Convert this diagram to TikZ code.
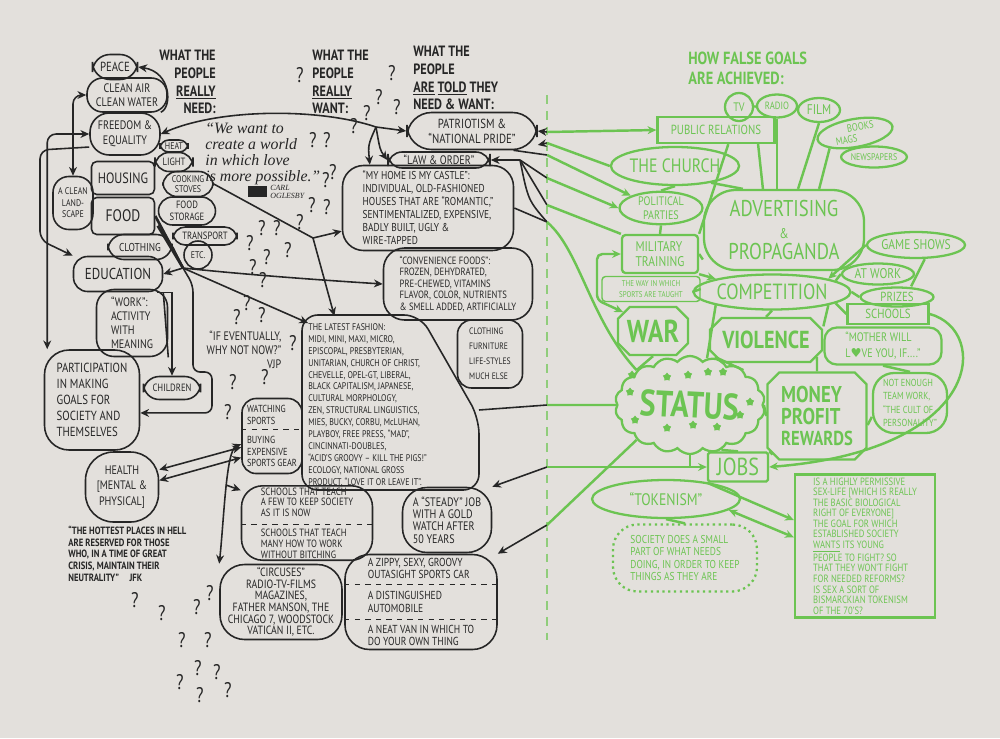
\documentclass[tikz,border=0pt]{standalone}
\usepackage{fontspec}
\setmainfont{PT Sans}[FakeStretch=0.82]
\newfontfamily\quotefont{Liberation Serif}[Ligatures=TeX]
\newfontfamily\symfont{DejaVu Sans}
\usetikzlibrary{shapes.geometric,shapes.symbols,shapes.misc,arrows.meta}

\definecolor{bgpaper}{RGB}{227,224,220}
\definecolor{inkc}{RGB}{38,38,38}
\definecolor{grnc}{RGB}{108,196,82}
\newcommand{\fs}[2]{\fontsize{#1}{#2}\selectfont}

\tikzset{
  sz/.style 2 args={minimum width=#1*0.02cm, minimum height=#2*0.02cm},
  inkbox/.style={draw=inkc, text=inkc, line width=0.9pt, rounded corners=7pt, inner sep=1pt, align=center},
  grbox/.style={draw=grnc, text=grnc, line width=1.3pt, inner sep=1pt, align=center},
  inktext/.style={text=inkc, inner sep=0pt, align=left},
  grtext/.style={text=grnc, inner sep=0pt, align=left},
  inkln/.style={draw=inkc, line width=0.9pt},
  grln/.style={draw=grnc, line width=1.4pt},
  qmark/.style={text=inkc, inner sep=0pt, font=\fs{12}{12}},
}

\begin{document}
\begin{tikzpicture}[x=0.02cm, y=-0.02cm, >={Stealth[length=5pt,width=4.5pt]}]
\fill[bgpaper] (0,0) rectangle (1000,738);
\useasboundingbox (0,0) rectangle (1000,738);
\draw[grnc!70!bgpaper, line width=0.8pt, dash pattern=on 5pt off 4pt] (547,95) -- (547,640);

% what the people really need
\node[inkbox, sz={45}{25}, rounded corners=10pt, font=\fs{7.5}{8}] (peace) at (115,67) {PEACE};
\node[inkbox, sz={80}{34}, rounded corners=9pt, font=\fs{7}{8}] (cleanair) at (127,95) {CLEAN AIR\\CLEAN WATER};
\node[inkbox, sz={70}{42}, rounded corners=11pt, font=\fs{7}{8.5}] (freedom) at (125,134) {FREEDOM \&\\EQUALITY};
\node[inkbox, sz={28}{12}, rounded corners=5pt, inner sep=0pt, font=\fs{5.5}{6}] (heat) at (174,146) {HEAT};
\node[inkbox, sz={38}{19}, rounded corners=8pt, font=\fs{6}{6}] (light) at (174,162) {LIGHT};
\node[inkbox, sz={63}{33}, rounded corners=3pt, font=\fs{8.5}{9}] (housing) at (123,178) {HOUSING};
\node[inkbox, sz={63}{37}, rounded corners=3pt, font=\fs{9.5}{10}] (food) at (123,216) {FOOD};
\node[inkbox, sz={50}{25}, rounded corners=8pt, font=\fs{5.5}{6}] (cooking) at (188,184) {COOKING\\STOVES};
\node[inkbox, sz={57}{28}, rounded corners=8pt, font=\fs{6}{6.5}] (storage) at (187,211) {FOOD\\STORAGE};
\node[inkbox, sz={40}{53}, rounded corners=9pt, font=\fs{5.5}{6.5}] (landscape) at (73,203) {A CLEAN\\LAND-\\SCAPE};
\node[inkbox, sz={64}{18}, rounded corners=7pt, font=\fs{6}{6}] (transport) at (205,236) {TRANSPORT};
\node[inkbox, sz={64}{25}, rounded corners=9pt, font=\fs{6.5}{7}] (clothing) at (140,247) {CLOTHING};
\node[inkbox, circle, sz={28}{28}, inner sep=0pt, font=\fs{5.5}{6}] (etc) at (198,255) {ETC.};
\node[inkbox, sz={89}{35}, rounded corners=8pt, font=\fs{9}{9}] (education) at (118,274) {EDUCATION};
\node[inkbox, sz={71}{67}, rounded corners=10pt, align=left, font=\fs{7}{8}] (work) at (132,323) {``WORK'':\\ACTIVITY\\WITH\\MEANING};
\node[inkbox, sz={57}{23}, rounded corners=9pt, font=\fs{6}{6}] (children) at (172,388) {CHILDREN};
\node[inkbox, sz={95}{100}, rounded corners=14pt, align=left, font=\fs{7.5}{9}] (particip) at (92,400) {PARTICIPATION\\IN MAKING\\GOALS FOR\\SOCIETY AND\\THEMSELVES};
\node[inkbox, sz={73}{70}, rounded corners=16pt, font=\fs{7}{9}] (health) at (122,487) {HEALTH\\{[}MENTAL \&\\PHYSICAL{]}};

% titles and quotes
\node[inktext, anchor=north east, align=right, font=\bfseries\fs{8.5}{10}] (needtitle) at (216,50) {WHAT THE\\PEOPLE\\\underline{REALLY}\\NEED:};
\node[inktext, anchor=north west, font=\bfseries\fs{8.5}{10}] (wanttitle) at (312,50) {WHAT THE\\PEOPLE\\\underline{REALLY}\\WANT:};
\node[inktext, anchor=north west, font=\bfseries\fs{8.5}{10}] (toldtitle) at (413,46) {WHAT THE\\PEOPLE\\\underline{ARE} \underline{TOLD} THEY\\NEED \& WANT:};
\node[inktext, anchor=north west, font=\quotefont\itshape\fs{9}{9}] (quote) at (205,123) {``We want to\\create a world\\in which love\\is more possible.''};
\node[fill=inkc, sz={19}{11}, inner sep=0pt] (blot) at (257,191) {};
\node[inktext, anchor=west, font=\quotefont\itshape\fs{4.5}{4.5}] (oglesby) at (270,192) {CARL\\OGLESBY};
\node[inktext, align=right, font=\fs{7}{8}] (ifnow) at (244,350) {``IF EVENTUALLY,\\WHY NOT NOW?''\\VJP};
\node[inktext, anchor=north west, font=\bfseries\fs{6}{6.6}] (jfk) at (68,526) {``THE HOTTEST PLACES IN HELL\\ARE RESERVED FOR THOSE\\WHO, IN A TIME OF GREAT\\CRISIS, MAINTAIN THEIR\\NEUTRALITY''\quad JFK};

% what the people are told they need
\node[inkbox, sz={130}{37}, rounded corners=14pt, font=\fs{7.5}{8.5}] (patriot) at (472,131) {PATRIOTISM \&\\``NATIONAL PRIDE''};
\node[inkbox, sz={102}{16}, rounded corners=8pt, font=\fs{7}{7}] (law) at (439,160) {``LAW \& ORDER''};
\node[inkbox, sz={171}{85}, rounded corners=12pt, align=left, font=\fs{6.5}{7.4}] (home) at (428,208) {``MY HOME IS MY CASTLE'':\\INDIVIDUAL, OLD-FASHIONED\\HOUSES THAT ARE ``ROMANTIC,''\\SENTIMENTALIZED, EXPENSIVE,\\BADLY BUILT, UGLY \&\\WIRE-TAPPED};
\node[inkbox, sz={149}{72}, rounded corners=12pt, align=left, font=\fs{6}{6.6}] (conv) at (458,284) {``CONVENIENCE FOODS'':\\FROZEN, DEHYDRATED,\\PRE-CHEWED, VITAMINS\\FLAVOR, COLOR, NUTRIENTS\\\& SMELL ADDED, ARTIFICIALLY};
\node[inkbox, sz={65}{68}, rounded corners=8pt, align=left, font=\fs{5.3}{8.5}] (clothlist) at (490,354) {CLOTHING\\FURNITURE\\LIFE-STYLES\\MUCH ELSE};
\node[inktext, anchor=north west, font=\fs{5.5}{6.8}] (fashion) at (308,323) {THE LATEST FASHION:\\MIDI, MINI, MAXI, MICRO,\\EPISCOPAL, PRESBYTERIAN,\\UNITARIAN, CHURCH OF CHRIST,\\CHEVELLE, OPEL-GT, LIBERAL,\\BLACK CAPITALISM, JAPANESE,\\CULTURAL MORPHOLOGY,\\ZEN, STRUCTURAL LINGUISTICS,\\MIES, BUCKY, CORBU, McLUHAN,\\PLAYBOY, FREE PRESS, ``MAD'',\\CINCINNATI-DOUBLES,\\``ACID'S GROOVY -- KILL THE PIGS!''\\ECOLOGY, NATIONAL GROSS\\PRODUCT, ``LOVE IT OR LEAVE IT''.};
\draw[inkln, rounded corners=9pt] (302,315) -- (420,315) -- (479,418) -- (479,490) -- (302,490) -- cycle;
\coordinate (fashR) at (479,410);
\node[inkbox, sz={60}{75}, rounded corners=8pt, align=left, font=\fs{5.8}{6.8}] (sports) at (272,436) {WATCHING\\SPORTS\\[4pt]BUYING\\EXPENSIVE\\SPORTS GEAR};
\draw[inkln, dashed, line width=0.5pt] ([yshift=4pt]sports.west) -- ([yshift=4pt]sports.east);
\node[inkbox, sz={131}{73}, rounded corners=12pt, align=left, font=\fs{6}{6.2}] (schools) at (307,523) {SCHOOLS THAT TEACH\\A FEW TO KEEP SOCIETY\\AS IT IS NOW\\[5pt]SCHOOLS THAT TEACH\\MANY HOW TO WORK\\WITHOUT BITCHING};
\draw[inkln, dashed, line width=0.5pt] ([yshift=-1pt]schools.west) -- ([yshift=-1pt]schools.east);
\node[inkbox, sz={122}{75}, rounded corners=14pt, font=\fs{6.8}{6.6}] (circus) at (281,602) {``CIRCUSES''\\RADIO-TV-FILMS\\MAGAZINES,\\FATHER MANSON, THE\\CHICAGO 7, WOODSTOCK\\VATICAN II, ETC.};
\node[inkbox, sz={89}{65}, rounded corners=14pt, align=left, font=\fs{7}{7}] (job) at (447,520) {A ``STEADY'' JOB\\WITH A GOLD\\WATCH AFTER\\50 YEARS};
\node[inkbox, sz={152}{95}, rounded corners=14pt, align=left, font=\fs{6.6}{7}] (car) at (421,602) {A ZIPPY, SEXY, GROOVY\\OUTASIGHT SPORTS CAR\\[5pt]A DISTINGUISHED\\AUTOMOBILE\\[5pt]A NEAT VAN IN WHICH TO\\DO YOUR OWN THING};
\draw[inkln, dashed, line width=0.5pt] ([yshift=10pt]car.west) -- ([yshift=10pt]car.east);
\draw[inkln, dashed, line width=0.5pt] ([yshift=-10pt]car.west) -- ([yshift=-10pt]car.east);

% question marks
\foreach \x/\y [count=\i] in {300/75,392/73,379/97,397/107,367/113,354/126,313/140,327/140,333/172,326/180,
  312/205,327/207,300/222,262/228,277/228,250/243,267/257,288/250,253/267,263/280,247/303,237/317,262/315,
  293/343,233/382,265/377,228/412,135/600,162/613,197/607,210/593,182/640,208/640,180/682,198/668,217/672,
  200/695,228/690}
  \node[qmark] (q\i) at (\x,\y) {?};

% how false goals are achieved
\node[grtext, anchor=north west, font=\bfseries\fs{10}{11}] (goalstitle) at (688,52) {HOW FALSE GOALS\\ARE ACHIEVED:};
\node[grbox, circle, sz={28}{28}, inner sep=0pt, font=\fs{7}{7}] (tv) at (739,107) {TV};
\node[grbox, ellipse, sz={40}{23}, inner sep=0pt, font=\fs{6}{6}] (radio) at (777,106) {RADIO};
\node[grbox, ellipse, sz={42}{24}, inner sep=0pt, font=\fs{8}{8}] (film) at (819,110) {FILM};
\node[grbox, ellipse, sz={76}{28}, rotate=10, inner sep=0pt, font=\fs{6}{6.5}] (books) at (855,133) {\hspace*{1.2em}BOOKS\\MAGS\hspace*{1.8em}};
\node[grbox, ellipse, sz={62}{21}, inner sep=0pt, font=\fs{5.5}{6}] (news) at (874,157) {NEWSPAPERS};
\node[grbox, sz={117}{26}, font=\fs{7.5}{8}] (pr) at (716,130) {PUBLIC RELATIONS};
\node[grbox, ellipse, sz={125}{38}, inner sep=0pt, font=\fs{11}{11}] (church) at (675,166) {THE CHURCH};
\node[grbox, ellipse, sz={83}{30}, inner sep=0pt, font=\fs{7}{8}] (political) at (661,208) {POLITICAL\\PARTIES};
\node[grbox, sz={160}{80}, rounded corners=18pt, font=\fs{13}{12}] (advert) at (784,230) {ADVERTISING\\{\fs{8}{8}\&}\\PROPAGANDA};
\node[grbox, sz={76}{38}, rounded corners=2pt, align=left, font=\fs{8}{9}] (military) at (660,254) {MILITARY\\TRAINING};
\node[grbox, sz={98}{25}, rounded corners=2pt, line width=0.8pt, font=\fs{4.8}{6}] (taught) at (651,289) {THE WAY IN WHICH\\SPORTS ARE TAUGHT};
\node[grbox, ellipse, sz={140}{35}, inner sep=0pt, font=\fs{12.5}{12}] (competition) at (772,292) {COMPETITION};
\node[grbox, ellipse, sz={93}{26}, inner sep=0pt, font=\fs{8}{8}] (gameshows) at (916,245) {GAME SHOWS};
\node[grbox, ellipse, sz={72}{21}, inner sep=0pt, font=\fs{8}{8}] (atwork) at (878,274) {AT WORK};
\node[grbox, ellipse, sz={73}{19}, inner sep=0pt, font=\fs{7.5}{8}] (prizes) at (897,297) {PRIZES};
\node[grbox, sz={81}{20}, font=\fs{7.5}{8}] (schoolsg) at (888,314) {SCHOOLS};
\node[grbox, chamfered rectangle, sz={70}{48}, font=\bfseries\fs{18}{18}] (war) at (653,331) {WAR};
\node[grbox, chamfered rectangle, sz={112}{44}, font=\bfseries\fs{14}{15}] (violence) at (766,340) {VIOLENCE};
\node[grbox, sz={117}{37}, rounded corners=7pt, align=left, font=\fs{7}{9}] (mother) at (883,346) {``MOTHER WILL\\L{\symfont\char"2665}VE YOU, IF....''};
\node[grbox, sz={74}{60}, rounded corners=12pt, align=left, font=\fs{5.8}{7.5}] (notenough) at (910,403) {NOT ENOUGH\\TEAM WORK,\\``THE CULT OF\\PERSONALITY''};
\node[grbox, cloud, cloud puffs=18, cloud puff arc=100, aspect=1.5, sz={150}{98}, inner sep=0pt] (status) at (690,405) {};
\node[grtext, font=\bfseries\fs{21}{21}, rotate=-3] (statustext) at (690,405) {STATUS};
\foreach \x/\y [count=\i] in {632/375,667/377,688/375,708/372,723/372,630/392,750/402,635/420,667/428,693/425,717/427,740/415}
  \node[star, star points=5, fill=grnc, inner sep=0pt, minimum size=5pt] (st\i) at (\x,\y) {};
\node[grbox, chamfered rectangle, sz={99}{87}, align=left, font=\bfseries\fs{13}{12.5}] (money) at (817,416) {MONEY\\PROFIT\\{\fs{11.5}{12}REWARDS}};
\node[grbox, sz={60}{29}, rounded corners=1pt, font=\fs{14}{14}] (jobs) at (738,467) {JOBS};
\node[grbox, ellipse, sz={148}{38}, inner sep=0pt, font=\fs{9.5}{10}] (tokenism) at (666,499) {``TOKENISM''};
\node[grbox, dotted, sz={144}{67}, rounded corners=14pt, align=left, font=\fs{6.5}{7.2}] (society) at (685,558) {SOCIETY DOES A SMALL\\PART OF WHAT NEEDS\\DOING, IN ORDER TO KEEP\\THINGS AS THEY ARE};
\node[grbox, sz={140}{143}, align=left, font=\fs{6}{6}] (sexbox) at (865,546) {IS A HIGHLY PERMISSIVE\\SEX-LIFE [WHICH IS REALLY\\THE BASIC BIOLOGICAL\\RIGHT OF EVERYONE]\\THE GOAL FOR WHICH\\ESTABLISHED SOCIETY\\\underline{WANTS} ITS YOUNG\\PEOPLE TO FIGHT? SO\\THAT THEY WON'T FIGHT\\FOR NEEDED REFORMS?\\IS SEX A SORT OF\\BISMARCKIAN TOKENISM\\OF THE 70'S?};

% black connectors
\draw[inkln,->] (freedom.north east) .. controls (172,108) and (172,72) .. (peace.east);
\draw[inkln,<->,rounded corners=5pt] (cleanair.west) -| (landscape.north);
\draw[inkln,<->,rounded corners=5pt] (freedom.west) -| ([xshift=2pt]particip.north west);
\draw[inkln,->,rounded corners=5pt] (freedom.200) -- (40,150) -- (40,240) -- (education.north west);
\coordinate (jn) at (376,127);
\draw[inkln,<->] (freedom.east) .. controls (220,108) and (320,108) .. (jn) -- (patriot.west);
\draw[inkln,->] (jn) .. controls (380,150) .. (law.west);
\draw[inkln,->] (jn) .. controls (368,145) .. ([xshift=16pt]home.north west);
\coordinate (hub) at (183,268);
\draw[inkln,line width=1.5pt] (food.east) -- (hub);
\draw[inkln,line width=1.5pt] (storage.south west) -- (hub);
\draw[inkln] (clothing.east) -- (hub);
\draw[inkln,->] (hub) .. controls (250,275) and (320,280) .. (conv.west);
\draw[inkln,->] (hub) -- (fashion.north west);
\draw[inkln,->] (hub) -- (education.east);
\coordinate (hv) at (313,238);
\draw[inkln,->] (cooking.east) -- (hv) -- (home.195);
\draw[inkln,->] (hv) -- ([shift={(15pt,4pt)}]fashion.north west);
\draw[inkln,->] (education.-25) -| (children.north);
\draw[inkln] (education.south east) -- (work.south east);
\draw[inkln,->,rounded corners=4pt] (hub) -- (193,285) -- (193,372) -- (212,372) |- (particip.-15);
\draw[inkln,<->] (health.25) -- (sports.200);
\draw[inkln,<->] (health.10) -- (sports.215);
\draw[inkln,<->] (sports.195) .. controls (226,450) and (224,520) .. (circus.north west);
\coordinate (sv) at (226,485);
\draw[inkln,->] (sv) -- ([yshift=-3pt]schools.north west);

% across the fold
\coordinate (fa) at (547,132);
\coordinate (fb) at (547,143);
\coordinate (fc) at (547,155);
\coordinate (fd) at (547,178);
\coordinate (fe) at (547,222);
\coordinate (fx) at (547,205);
\coordinate (fs) at (547,405);
\coordinate (ff) at (547,467);
\coordinate (fg) at (547,525);
\coordinate (pj) at (520,160);
\draw[inkln,<-] (patriot.east) -- (fa);
\draw[inkln,<-] (patriot.-12) -- (fb);
\draw[inkln] (patriot.-25) -- (fc);
\draw[inkln,<-] (law.east) -- (pj);
\draw[inkln] (pj) -- (fd);
\draw[inkln] (pj) -- (fx);
\draw[inkln] (pj) .. controls (528,200) .. (fe);
\draw[inkln] (home.east) -- (fe);
\draw[inkln] (fashR) -- (fs);
\draw[inkln,<-] (job.north east) -- (ff);
\draw[inkln,<-] (car.north east) -- (fg);
\draw[grln,->] (fa) -- (pr.west);
\draw[grln] (fb) -- (church.west);
\draw[grln,->] (fc) -- (political.north west);
\draw[grln,->] (fd) -- (political.west);
\draw[grln] (fx) -- (military.north west);
\draw[grln] (fe) .. controls (580,250) and (590,320) .. (status.north west);
\draw[grln,<->,rounded corners=3pt] (military.west) -| (597,300) -- (war.north west);
\draw[grln] (fs) -- (status.west);
\coordinate (trunk) at (690,467);
\draw[grln,->] (ff) -- (jobs.west);
\draw[grln] (fg) -- (status.south west);

% green connectors
\draw[grln] (tv.east) -- (radio.west);
\draw[grln] (radio.south) -- (radio.south |- advert.north);
\draw[grln] (film.south) -- ([xshift=8pt]advert.north);
\draw[grln] (books.south west) -- ([xshift=20pt]advert.north);
\draw[grln] ([xshift=-10pt]pr.south east) -- ([xshift=-12pt]advert.north);
\draw[grln] ([xshift=7pt]pr.south) -- (military.north east);
\draw[grln] (church.-25) -- (advert.135);
\draw[grln] (church.south) -- (political.north);
\draw[grln] (political.south) -- (military.north);
\draw[grln] (military.east) -- (advert.200);
\draw[grln,->] (military.south east) -- (competition.north west);
\draw[grln] (taught.east) -- (competition.west);
\draw[grln] (competition.south west) -- (status.70);
\draw[grln] (war.south) -- (status.north west);
\draw[grln] (violence.south west) -- (status.north east);
\draw[grln] (violence.north) -- (competition.south);
\draw[grln] (status.east) -- (money.west);
\draw[grln] (violence.south east) -- (money.north);
\draw[grln] (competition.10) -- (atwork.west);
\draw[grln] (competition.east) -- (prizes.west);
\draw[grln] (competition.-10) -- (schoolsg.west);
\draw[grln,->] (gameshows.west) -- (competition.north east);
\draw[grln] ([xshift=5pt]gameshows.south) -- ([xshift=8pt]prizes.north);
\draw[grln] (competition.south east) -- (mother.north west);
\draw[grln] (mother.south) -- (notenough.north);
\draw[grln] (notenough.200) -- (money.-10);
\draw[grln] (status.south) -- (trunk);
\draw[grln] (status.-55) -- (jobs.north);
\draw[grln] (money.south west) -- (jobs.north east);
\draw[grln,->] (schoolsg.east) .. controls (990,330) and (985,450) .. (jobs.east);
\draw[grln,->] (jobs.south west) -- (sexbox.160);
\draw[grln,<->] (tokenism.-10) -- (sexbox.173);
\draw[grln] (tokenism.south) -- (society.north);
\end{tikzpicture}
\end{document}
